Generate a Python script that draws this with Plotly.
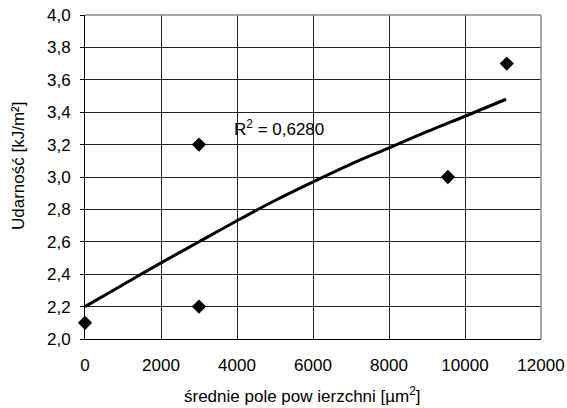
import plotly.graph_objects as go

# measured points
area = [0, 3000, 3000, 9550, 11100]
impact = [2.1, 3.2, 2.2, 3.0, 3.7]

# trendline
trend_x = [0, 1000, 2000, 3000, 4000, 5000, 6000, 7000, 8000, 9000, 10000, 11080]
trend_y = [2.20, 2.335, 2.47, 2.60, 2.73, 2.855, 2.97, 3.08, 3.18, 3.28, 3.375, 3.48]

r2_label = "R<sup>2</sup> = 0,6280"
x_title = "średnie pole pow ierzchni [µm<sup>2</sup>]"
y_title = "Udarność [kJ/m²]"
x_ticks = [0, 2000, 4000, 6000, 8000, 10000, 12000]
y_ticks = [2.0, 2.2, 2.4, 2.6, 2.8, 3.0, 3.2, 3.4, 3.6, 3.8, 4.0]

FONT = "Liberation Sans, Arial, sans-serif"
FS = 17

fig = go.Figure()
fig.add_trace(go.Scatter(
    x=trend_x, y=trend_y, mode="lines", line_shape="spline",
    line=dict(color="black", width=3), showlegend=False, hoverinfo="skip"))
fig.add_trace(go.Scatter(
    x=area, y=impact, mode="markers",
    marker=dict(symbol="diamond", size=11, color="black"),
    showlegend=False, cliponaxis=False))

fig.add_annotation(x=3860, y=3.30, text=r2_label, showarrow=False,
                   xanchor="left", yanchor="middle",
                   font=dict(family=FONT, size=FS, color="black"))
# axis titles
fig.add_annotation(xref="paper", yref="paper", x=0.476, y=0, yshift=-56,
                   text=x_title, showarrow=False, xanchor="center", yanchor="middle",
                   font=dict(family=FONT, size=FS, color="black"))
fig.add_annotation(xref="paper", yref="paper", x=0, y=0.534, xshift=-66,
                   text=y_title, showarrow=False, textangle=-90,
                   xanchor="center", yanchor="middle",
                   font=dict(family=FONT, size=FS, color="black"))

fig.update_layout(
    width=567, height=408,
    margin=dict(l=85, r=26, t=15, b=69),
    paper_bgcolor="white", plot_bgcolor="white",
    separators=", ",
    font=dict(family=FONT, size=FS, color="black"),
    xaxis=dict(
        range=[0, 12000], tickvals=x_ticks, tickformat="d",
        showgrid=True, gridcolor="#222", gridwidth=1,
        showline=True, linecolor="black", linewidth=1, mirror=False,
        zeroline=False, ticks="", ticklabelstandoff=11, automargin=False,
    ),
    yaxis=dict(
        range=[2.0, 4.0], tickvals=y_ticks, tickformat=".1f",
        showgrid=True, gridcolor="#222", gridwidth=1,
        showline=True, linecolor="black", linewidth=1,
        zeroline=False, ticks="outside", ticklen=4, tickcolor="black",
        ticklabelstandoff=6, automargin=False,
    ),
    shapes=[
        dict(type="line", xref="paper", yref="paper", x0=0, y0=1, x1=1, y1=1,
             line=dict(color="#888", width=1.5), layer="above"),
        dict(type="line", xref="paper", yref="paper", x0=1, y0=0, x1=1, y1=1,
             line=dict(color="#888", width=1.5), layer="above"),
    ],
)

fig.write_html("out.html", config={"displayModeBar": False},
               post_script="document.body.style.margin='0px';document.body.style.overflow='hidden';")
